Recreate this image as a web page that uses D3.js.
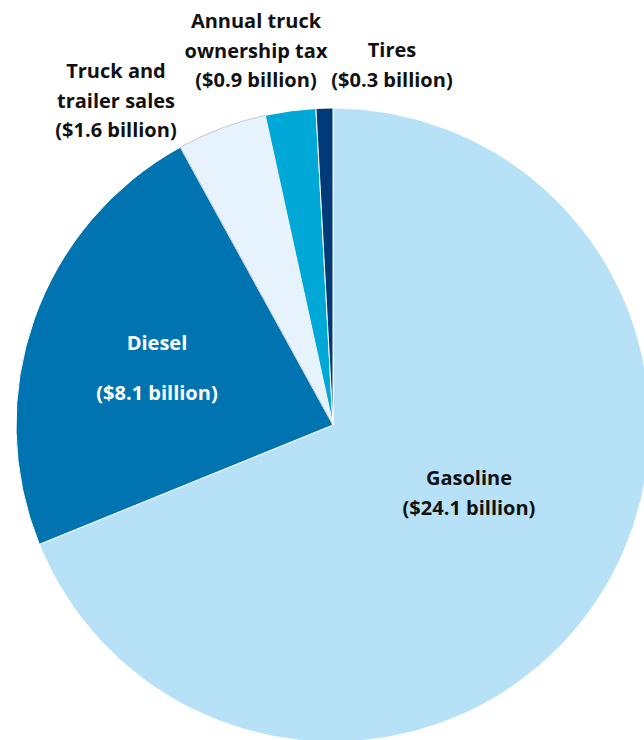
<!DOCTYPE html>
<html><head><meta charset="utf-8">
<script src="https://cdn.jsdelivr.net/npm/d3@7"></script>
<style>
html,body{margin:0;padding:0;background:#fff;}
svg{display:block;}
text{font-family:"Open Sans",sans-serif;font-weight:700;font-size:20px;}
</style></head>
<body>
<svg id="chart" width="644" height="740"></svg>
<script>
const categories = ["Gasoline", "Diesel", "Truck and trailer sales", "Annual truck ownership tax", "Tires"];
const values = [24.1, 8.1, 1.6, 0.9, 0.3];
const labelLines = [
  ["Gasoline", "($24.1 billion)"],
  ["Diesel", "($8.1 billion)"],
  ["Truck and", "trailer sales", "($1.6 billion)"],
  ["Annual truck", "ownership tax", "($0.9 billion)"],
  ["Tires", "($0.3 billion)"]
];
const colors = ["#b7e1f6", "#0073b1", "#e7f3fc", "#00a8d8", "#003a78"];

const svg = d3.select("#chart");
const cx = 333, cy = 425, R = 317;
const g = svg.append("g").attr("transform", `translate(${cx},${cy})`);

const pie = d3.pie().sort(null).value(d => d);
const arcs = pie(values);
const arc = d3.arc().innerRadius(0).outerRadius(R);

g.selectAll("path").data(arcs).join("path")
  .attr("d", arc)
  .attr("fill", (d, i) => colors[i])
  .attr("stroke", (d, i) => i === 2 ? "#c4c8cc" : "#ffffff")
  .attr("stroke-width", 1);

// label placement: center x, first baseline y, line height, colour
const labelLayout = [
  {x: 469, y: 485, lh: 30, c: "#111"},
  {x: 157, y: 350, lh: 50, c: "#fff"},
  {x: 116, y: 78, lh: 29.5, c: "#111"},
  {x: 256, y: 28, lh: 29.5, c: "#111"},
  {x: 392, y: 57, lh: 30, c: "#111"}
];

labelLines.forEach((lines, i) => {
  const L = labelLayout[i];
  const t = svg.append("text")
    .attr("text-anchor", "middle")
    .attr("fill", L.c);
  lines.forEach((s, j) => {
    t.append("tspan").attr("x", L.x).attr("y", L.y + j * L.lh).text(s);
  });
});
</script>
</body></html>
